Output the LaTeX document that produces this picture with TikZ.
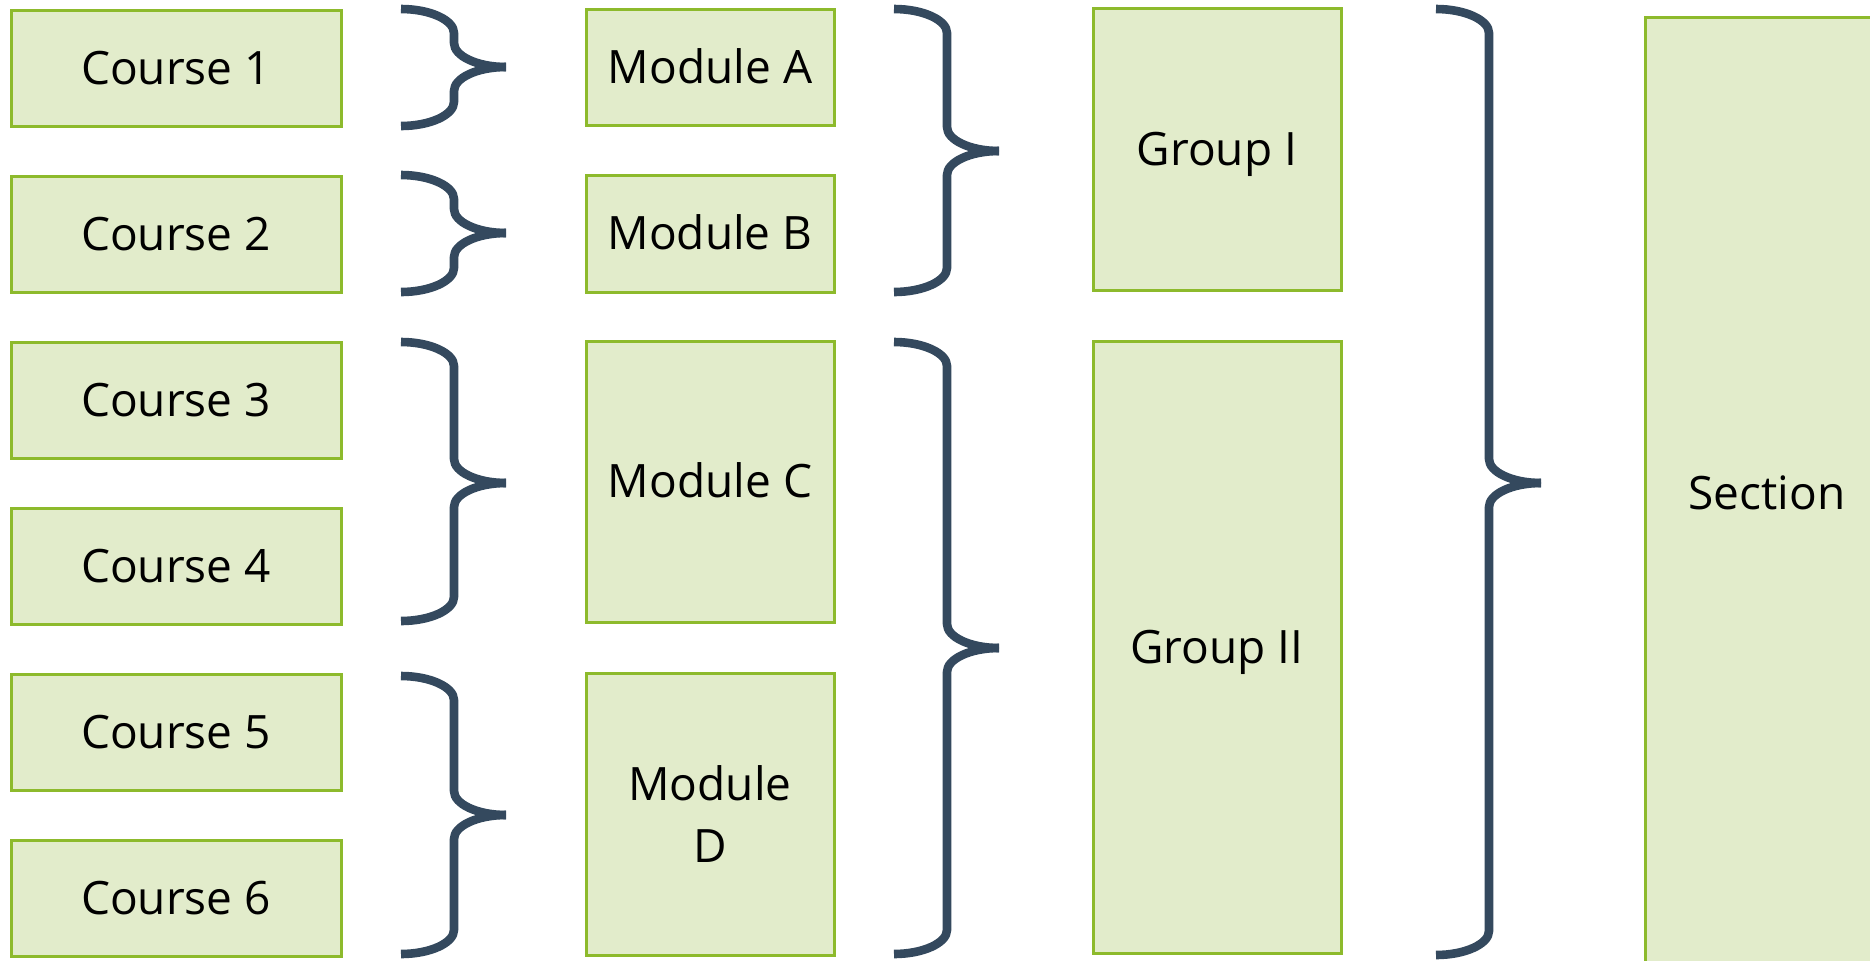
\documentclass[tikz,border=0pt]{standalone}
\usepackage{fontspec}
\setmainfont{Open Sans}
\definecolor{boxfill}{HTML}{E2ECCB}
\definecolor{boxline}{HTML}{8DBA2C}
\definecolor{bracecol}{HTML}{34495E}
\newcommand\mybrace[4]{% L, top, bottom, mid
  \draw[bracestyle] (#1,#2) .. controls ({#1+29},#2) and ({#1+53},{#2+11}) .. ({#1+53},{#2+24})
    -- ({#1+53},{#4-24}) .. controls ({#1+53},{#4-11}) and ({#1+76},#4) .. ({#1+105},#4);
  \draw[bracestyle] (#1,#3) .. controls ({#1+29},#3) and ({#1+53},{#3-11}) .. ({#1+53},{#3-24})
    -- ({#1+53},{#4+24}) .. controls ({#1+53},{#4+11}) and ({#1+76},#4) .. ({#1+105},#4);
}
\begin{document}
\begin{tikzpicture}[x=0.5pt,y=-0.5pt,
  box/.style={draw=boxline, fill=boxfill, line width=1.5pt, inner sep=0pt, outer sep=0pt,
    align=center, font=\fontsize{23}{31}\selectfont, text=black},
  oneline/.style={text height=16.4pt, text depth=0pt},
  bracestyle/.style={draw=bracecol, line width=4.3pt, line join=round}]
\useasboundingbox (0,0) rectangle (1870,960);
\begin{scope}
\clip (0,0) rectangle (1870,960);
% courses
\foreach \i/\y in {1/68,2/234,3/400,4/566,5/732,6/898}{
  \node[box, oneline, minimum width=165pt, minimum height=58pt] (c\i) at (176,\y) {Course \i};
}
% modules
\node[box, oneline, minimum width=124pt, minimum height=58pt] (mA) at (710,67) {Module A};
\node[box, oneline, minimum width=124pt, minimum height=58.5pt] (mB) at (710,233.5) {Module B};
\node[box, oneline, minimum width=124pt, minimum height=140.5pt] (mC) at (710,481.5) {Module C};
\node[box, minimum width=124pt, minimum height=141pt] (mD) at (710,814) {Module\\D};
% groups
\node[box, oneline, minimum width=124pt, minimum height=141pt] (g1) at (1217,149) {Group I};
\node[box, oneline, minimum width=124pt, minimum height=306pt] (g2) at (1217,647) {Group II};
% section
\node[box, oneline, minimum width=122pt, minimum height=476pt] (sec) at (1767,493) {Section};
% braces
\mybrace{401}{9}{126}{67}
\mybrace{401}{175}{292}{233}
\mybrace{401}{342}{621}{483}
\mybrace{401}{676}{954}{815}
\mybrace{894}{9}{292}{151}
\mybrace{894}{342}{954}{648}
\mybrace{1436}{9}{955}{483}
\end{scope}
\end{tikzpicture}
\end{document}
